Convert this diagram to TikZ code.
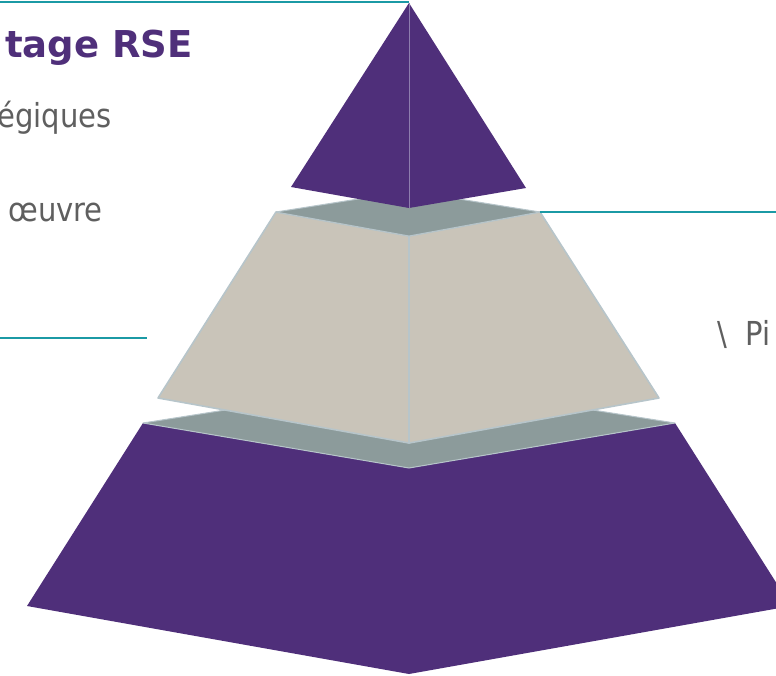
\documentclass[tikz,border=0pt]{standalone}
\usepackage{fontspec}
\setmainfont{DejaVu Sans}
\newfontfamily\narrowsans{DejaVu Sans}[FakeStretch=0.88]
\definecolor{pyrpurple}{HTML}{4F2F7A}
\definecolor{pyrgray}{HTML}{8C9B9B}
\definecolor{pyrbeige}{HTML}{C9C4B9}
\definecolor{pyredge}{HTML}{B7C5CA}
\definecolor{pyrpedge}{HTML}{8E7DAE}
\definecolor{leadteal}{HTML}{1B9AA5}
\definecolor{txtgray}{HTML}{5F5F5F}
\tikzset{
  purpleface/.style={fill=pyrpurple},
  grayface/.style={fill=pyrgray, draw=pyredge, line width=1pt, line join=round},
  beigeface/.style={fill=pyrbeige, draw=pyredge, line width=1.6pt, line join=round},
  leader/.style={draw=leadteal, line width=1.6pt},
  graytext/.style={text=txtgray, font=\narrowsans\fontsize{33}{38}\selectfont, inner sep=0pt},
  titletext/.style={text=pyrpurple, font=\fontsize{37}{44}\selectfont\bfseries, inner sep=0pt}
}
\begin{document}
\begin{tikzpicture}[x=1pt,y=-1pt]
\useasboundingbox (0,0) rectangle (776,675);
% bottom frustum
\coordinate (bTL) at (143,423);
\coordinate (bTB) at (409,381);
\coordinate (bTR) at (675,423);
\coordinate (bTF) at (409,468);
\coordinate (bBL) at (27,606);
\coordinate (bBF) at (409,674);
\coordinate (bBR) at (791,606);
\fill[purpleface] (bTL) -- (bTF) -- (bBF) -- (bBL) -- cycle;
\fill[purpleface] (bTF) -- (bTR) -- (bBR) -- (bBF) -- cycle;
\draw[grayface] (bTL) -- (bTB) -- (bTR) -- (bTF) -- cycle;
% middle frustum
\coordinate (mTL) at (276,212);
\coordinate (mTB) at (409,191);
\coordinate (mTR) at (540,212);
\coordinate (mTF) at (409,236);
\coordinate (mBL) at (158,398);
\coordinate (mBF) at (409,443);
\coordinate (mBR) at (659,398);
\draw[beigeface] (mTL) -- (mTF) -- (mBF) -- (mBL) -- cycle;
\draw[beigeface] (mTF) -- (mTR) -- (mBR) -- (mBF) -- cycle;
\draw[grayface] (mTL) -- (mTB) -- (mTR) -- (mTF) -- cycle;
% top pyramid
\coordinate (tA) at (409,3);
\coordinate (tL) at (291,187);
\coordinate (tR) at (526,188);
\coordinate (tF) at (409,208);
\fill[purpleface] (tA) -- (tL) -- (tF) -- cycle;
\fill[purpleface] (tA) -- (tF) -- (tR) -- cycle;
\draw[pyrpedge, line width=0.8pt] (tA) -- (tF);
% leader lines
\coordinate (l1) at (0,2);
\coordinate (l1e) at (409,2);
\coordinate (l2e) at (776,212);
\coordinate (l3s) at (0,338);
\coordinate (l3e) at (147,338);
\draw[leader] (l1) -- (l1e);
\draw[leader] (mTR) -- (l2e);
\draw[leader] (l3s) -- (l3e);
% texts
\node[titletext, anchor=base east] (title) at (193,57) {tage RSE};
\node[graytext, anchor=base east] (t1) at (112,127) {égiques};
\node[graytext, anchor=base east] (t2) at (103,221) {œuvre};
\node[graytext, anchor=base west] (t3) at (717,345) {\textbackslash\ \ Pi};
\end{tikzpicture}
\end{document}
